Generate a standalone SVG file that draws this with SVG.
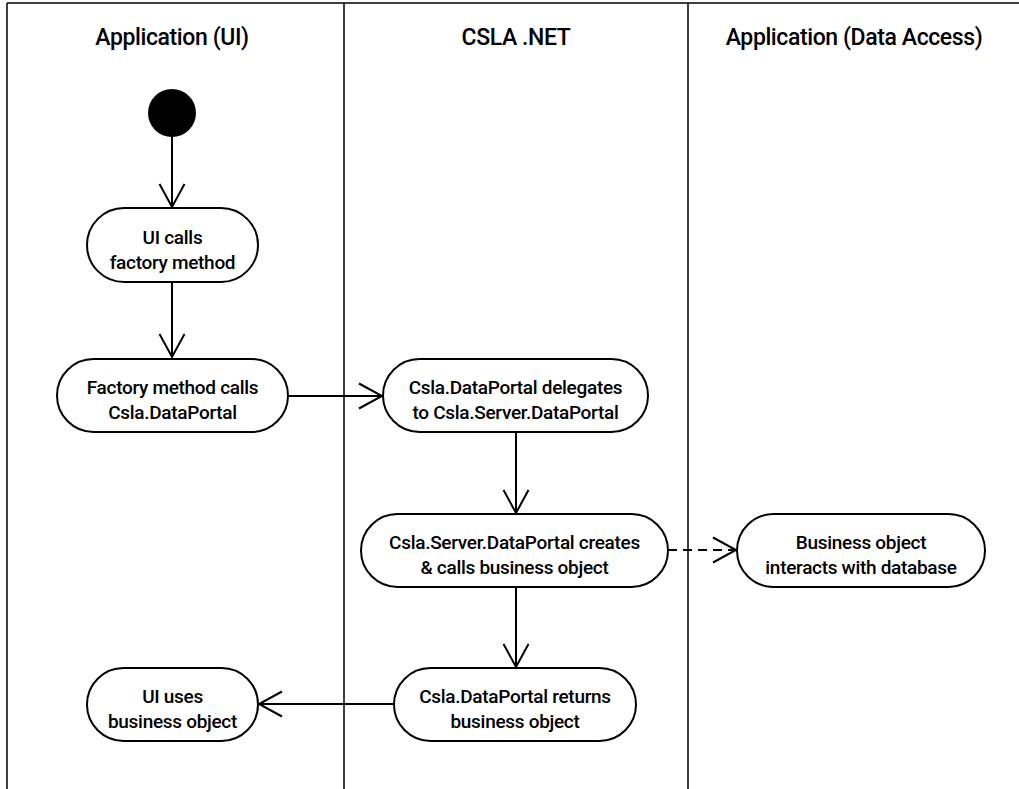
<svg xmlns="http://www.w3.org/2000/svg" width="1019" height="789" viewBox="0 0 1019 789">
<style>
text{font-family:Roboto,"Liberation Sans",sans-serif;font-weight:500;fill:#000;text-anchor:middle}
.hdr{font-size:23px;letter-spacing:-0.4px}
.lbl{font-size:19px;letter-spacing:-0.3px}
.lane{stroke:#000;stroke-width:1.5;fill:none}
.node rect{fill:#fff;stroke:#000;stroke-width:2}
.c{stroke:#000;stroke-width:2;fill:none}
</style>
<defs>
<marker id="ah" markerUnits="userSpaceOnUse" markerWidth="30" markerHeight="30" refX="24" refY="13" orient="auto" viewBox="0 0 30 26">
<path d="M1,0.5 L24,13 L1,25.5" fill="none" stroke="#000" stroke-width="2"/>
</marker>
</defs>
<rect width="1019" height="789" fill="#fff"/>
<g id="lanes">
<path class="lane" d="M7,3 H1019 M7,3 V789 M344,3 V789 M688,3 V789"/>
<text class="hdr" x="172" y="45">Application (UI)</text>
<text class="hdr" x="516" y="45">CSLA .NET</text>
<text class="hdr" x="854" y="45">Application (Data Access)</text>
</g>
<g id="connectors">
<line class="c" x1="172" y1="137" x2="172" y2="207" marker-end="url(#ah)"/>
<line class="c" x1="172" y1="282" x2="172" y2="357" marker-end="url(#ah)"/>
<line class="c" x1="288" y1="396" x2="382" y2="396" marker-end="url(#ah)"/>
<line class="c" x1="516" y1="432" x2="516" y2="513" marker-end="url(#ah)"/>
<line class="c" x1="668" y1="550" x2="736" y2="550" stroke-dasharray="9,6" marker-end="url(#ah)"/>
<line class="c" x1="516" y1="587" x2="516" y2="667" marker-end="url(#ah)"/>
<line class="c" x1="394" y1="704" x2="259" y2="704" marker-end="url(#ah)"/>
</g>
<g id="start"><circle cx="172" cy="113" r="24" fill="#000"/></g>
<g id="n1" class="node"><rect x="87" y="208" width="171" height="74" rx="37"/>
<text class="lbl" x="172.5" y="244">UI calls</text><text class="lbl" x="172.5" y="269">factory method</text></g>
<g id="n2" class="node"><rect x="57" y="359" width="231" height="73" rx="36.5"/>
<text class="lbl" x="172.5" y="394">Factory method calls</text><text class="lbl" x="172.5" y="419">Csla.DataPortal</text></g>
<g id="n3" class="node"><rect x="383" y="359" width="265" height="73" rx="36.5"/>
<text class="lbl" x="515.5" y="394">Csla.DataPortal delegates</text><text class="lbl" x="515.5" y="419">to Csla.Server.DataPortal</text></g>
<g id="n4" class="node"><rect x="361" y="514" width="307" height="73" rx="36.5"/>
<text class="lbl" x="514.5" y="549">Csla.Server.DataPortal creates</text><text class="lbl" x="514.5" y="574">&amp; calls business object</text></g>
<g id="n5" class="node"><rect x="737" y="514" width="248" height="73" rx="36.5"/>
<text class="lbl" x="861" y="549">Business object</text><text class="lbl" x="861" y="574">interacts with database</text></g>
<g id="n6" class="node"><rect x="394" y="668" width="242" height="73" rx="36.5"/>
<text class="lbl" x="515" y="703">Csla.DataPortal returns</text><text class="lbl" x="515" y="728">business object</text></g>
<g id="n7" class="node"><rect x="87" y="668" width="171" height="73" rx="36.5"/>
<text class="lbl" x="172.5" y="703">UI uses</text><text class="lbl" x="172.5" y="728">business object</text></g>
</svg>
